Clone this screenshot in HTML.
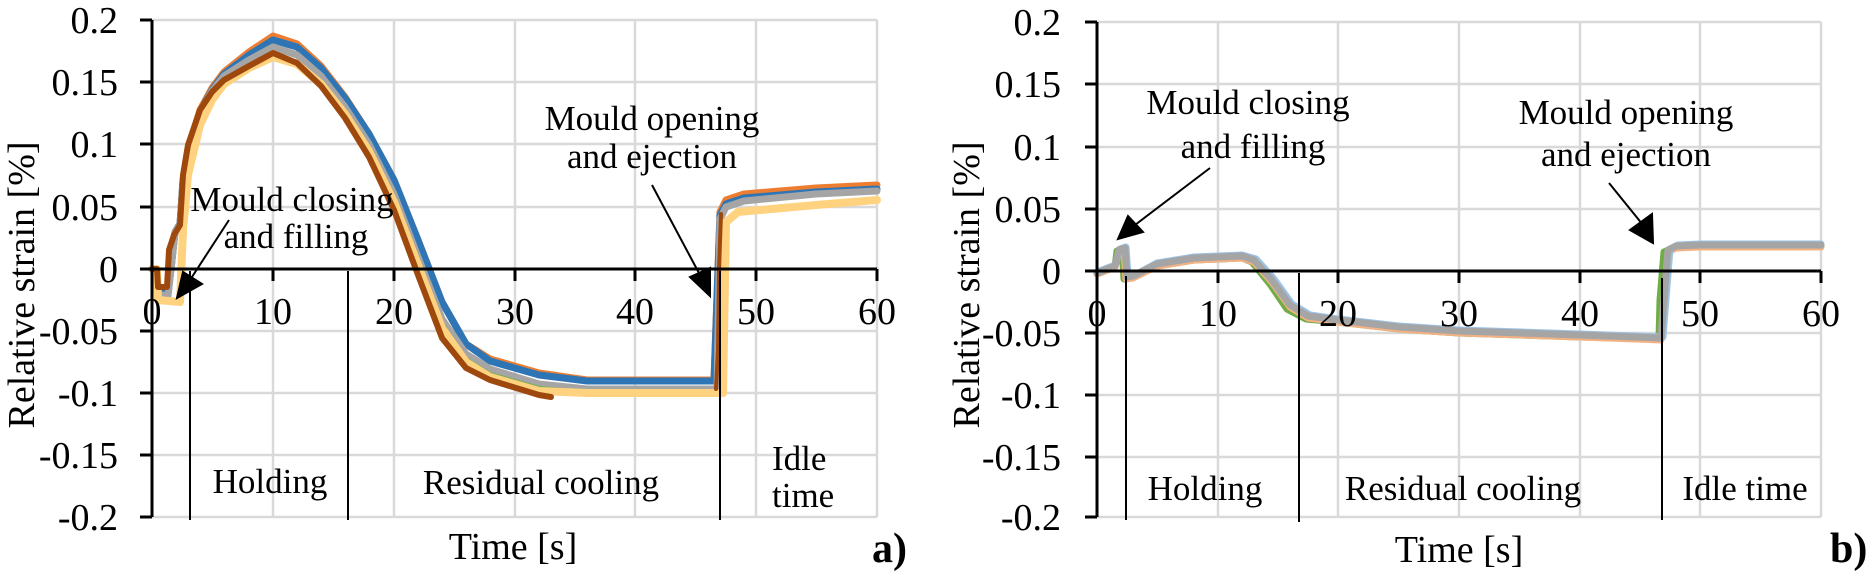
<!DOCTYPE html>
<html><head><meta charset="utf-8"><style>
html,body{margin:0;padding:0;background:#fff;}
svg{display:block;}
text{font-family:"Liberation Serif",serif;fill:#000;}
</style></head><body>
<svg width="1876" height="580" viewBox="0 0 1876 580" xmlns="http://www.w3.org/2000/svg">
<defs>
<marker id="ah" viewBox="0 0 10 10" refX="9" refY="5" markerWidth="9" markerHeight="9" markerUnits="userSpaceOnUse" orient="auto"></marker>
</defs>
<!-- LEFT GRID -->
<g stroke="#d9d9d9" stroke-width="2.5" fill="none">
<path d="M152 20H877M152 82H877M152 144H877M152 207H877M152 331H877M152 393H877M152 455H877M152 517H877"/>
<path d="M273 20V517M394 20V517M515 20V517M635 20V517M756 20V517M877 20V517"/>
</g>
<!-- RIGHT GRID -->
<g stroke="#d9d9d9" stroke-width="2.5" fill="none">
<path d="M1097 22H1821M1097 84H1821M1097 147H1821M1097 209H1821M1097 333H1821M1097 395H1821M1097 457H1821M1097 517H1821"/>
<path d="M1218 22V517M1338 22V517M1459 22V517M1580 22V517M1700 22V517M1821 22V517"/>
</g>

<!-- LEFT SERIES -->
<g fill="none" stroke-linejoin="round" stroke-linecap="round">
<path stroke="#ED7D31" stroke-width="7" d="M152 269L157 269L158 292L168 294L171 269L175 232L180 224L183 180L188 149L200 110L212 88L224 72L249 52L273 36L297 44L321 66L345 97L369 134L394 180L418 240L442 302L466 344L490 359L539 373L587 380L714 380L720 212L726 200L744 194L816 188L877 185"/>
<path stroke="#2E75B6" stroke-width="7" d="M152 269L157 269L158 292L168 294L171 269L175 232L180 224L183 181L188 150L200 112L212 90L224 74L249 55L273 40L297 47L321 68L345 98L369 134L394 180L418 240L442 302L466 344L490 361L539 375L587 381L714 381L720 215L726 204L744 198L816 192L877 189"/>
<path stroke="#A5A5A5" stroke-width="7" d="M152 269L157 269L158 294L168 296L171 269L175 232L180 225L183 182L188 151L200 113L212 91L224 76L249 60L273 47L297 55L321 76L345 107L369 144L394 194L418 257L442 319L466 354L490 369L539 384L587 389L717 389L720 219L726 207L744 201L816 194L877 191"/>
<path stroke="#70AD47" stroke-width="2" d="M442 322L466 358L490 373L539 387L587 391L717 391"/>
<path stroke="#FFD27F" stroke-width="8" d="M152 269L157 269L158 300L180 302L183 230L188 175L200 125L212 100L224 84L249 68L273 57L297 64L321 84L345 114L369 151L394 202L418 265L442 328L466 362L490 377L539 391L587 393L723 393L726 222L738 212L816 205L877 200"/>
<path stroke="#9E480E" stroke-width="6" d="M152 269L157 269L158 287L167 287L169 250L174 235L180 225L183 175L188 145L200 110L212 92L224 80L249 66L273 53L297 63L321 86L345 118L369 157L394 210L418 275L442 338L466 368L490 380L539 395L551 397"/>
<path stroke="#9E480E" stroke-width="4" d="M716 389L718 350L719 270L721 214"/>
</g>

<!-- RIGHT SERIES -->
<g fill="none" stroke-linejoin="round" stroke-linecap="round">
<path stroke="#70AD47" stroke-width="7" d="M1097 274L1115 267L1117 251L1122 249L1124 279L1131 277L1157 266L1194 260L1242 258L1252 262L1270 284L1287 309L1306 319L1338 322L1399 329L1459 333L1580 337L1659 339L1660 300L1664 252L1676 247L1700 246L1821 246"/>
<path stroke="#F4B183" stroke-width="7" d="M1097 274L1115 267L1119 251L1124 249L1126 279L1133 278L1157 266L1194 260L1242 258L1254 262L1272 282L1290 307L1308 318L1338 322L1399 329L1459 333L1580 337L1661 340L1664 302L1668 252L1676 248L1700 247L1821 247"/>
<path stroke="#9DC3E6" stroke-width="7" d="M1097 272L1115 265L1120 249L1126 247L1128 276L1135 275L1157 263L1194 257L1242 255L1256 259L1274 279L1292 304L1310 315L1338 319L1399 326L1459 330L1580 334L1663 337L1666 299L1670 249L1678 245L1700 244L1821 244"/>
<path stroke="#A5A5A5" stroke-width="7" d="M1097 273L1115 266L1119 250L1125 248L1127 277L1133 276L1157 264L1194 258L1242 256L1254 260L1272 280L1290 305L1308 316L1338 320L1399 327L1459 331L1580 335L1661 338L1664 300L1668 250L1676 246L1700 245L1821 245"/>
</g>

<!-- AXES LEFT -->
<g stroke="#000" stroke-width="3" fill="none">
<path d="M152 20V517"/>
<path d="M140 20H152M140 82H152M140 144H152M140 207H152M140 269H152M140 331H152M140 393H152M140 455H152M140 517H152"/>
<path d="M152 269H877"/>
<path d="M273 269V281M394 269V281M515 269V281M635 269V281M756 269V281M877 269V281"/>
</g>
<g stroke="#000" stroke-width="2" fill="none">
<path d="M190 271V520M348 271V520M720 271V520"/>
</g>
<!-- AXES RIGHT -->
<g stroke="#000" stroke-width="3" fill="none">
<path d="M1097 22V517"/>
<path d="M1085 22H1097M1085 84H1097M1085 147H1097M1085 209H1097M1085 271H1097M1085 333H1097M1085 395H1097M1085 457H1097M1085 517H1097"/>
<path d="M1097 271H1821"/>
<path d="M1218 271V283M1338 271V283M1459 271V283M1580 271V283M1700 271V283M1821 271V283"/>
</g>
<g stroke="#000" stroke-width="2" fill="none">
<path d="M1126 276V520M1299 273V522M1662 278V520"/>
</g>

<!-- ARROWS -->
<g stroke="#000" stroke-width="2" fill="#000">
<line x1="229" y1="220" x2="190" y2="280"/>
<polygon points="177,298 183,272 202,284"/>
<line x1="652" y1="185" x2="700" y2="275"/>
<polygon points="710,296 690,277 710,268" />
<line x1="1210" y1="168" x2="1135" y2="225"/>
<polygon points="1118,239 1128,216 1143,232"/>
<line x1="1609" y1="183" x2="1643" y2="225"/>
<polygon points="1653,243 1630,230 1652,214"/>
</g>

<!-- TICK LABELS LEFT -->
<g font-size="38" text-anchor="end">
<text x="118" y="33">0.2</text>
<text x="118" y="95">0.15</text>
<text x="118" y="157">0.1</text>
<text x="118" y="220">0.05</text>
<text x="118" y="282">0</text>
<text x="118" y="344">-0.05</text>
<text x="118" y="406">-0.1</text>
<text x="118" y="468">-0.15</text>
<text x="118" y="530">-0.2</text>
</g>
<g font-size="38" text-anchor="middle">
<text x="152" y="324">0</text>
<text x="273" y="324">10</text>
<text x="394" y="324">20</text>
<text x="515" y="324">30</text>
<text x="635" y="324">40</text>
<text x="756" y="324">50</text>
<text x="877" y="324">60</text>
</g>
<!-- TICK LABELS RIGHT -->
<g font-size="38" text-anchor="end">
<text x="1061" y="35">0.2</text>
<text x="1061" y="97">0.15</text>
<text x="1061" y="160">0.1</text>
<text x="1061" y="222">0.05</text>
<text x="1061" y="284">0</text>
<text x="1061" y="346">-0.05</text>
<text x="1061" y="408">-0.1</text>
<text x="1061" y="470">-0.15</text>
<text x="1061" y="530">-0.2</text>
</g>
<g font-size="38" text-anchor="middle">
<text x="1097" y="326">0</text>
<text x="1218" y="326">10</text>
<text x="1338" y="326">20</text>
<text x="1459" y="326">30</text>
<text x="1580" y="326">40</text>
<text x="1700" y="326">50</text>
<text x="1821" y="326">60</text>
</g>

<!-- AXIS TITLES -->
<text font-size="38" text-anchor="middle" transform="translate(34,285) rotate(-90)">Relative strain [%]</text>
<text font-size="38" text-anchor="middle" transform="translate(979,285) rotate(-90)">Relative strain [%]</text>
<text font-size="38" x="513" y="559" text-anchor="middle">Time [s]</text>
<text font-size="38" x="1459" y="562" text-anchor="middle">Time [s]</text>
<text font-size="42" font-weight="bold" x="872" y="562">a)</text>
<text font-size="42" font-weight="bold" x="1830" y="562">b)</text>

<!-- ANNOTATIONS LEFT -->
<g font-size="35">
<text x="292" y="211" text-anchor="middle">Mould closing</text>
<text x="296" y="248" text-anchor="middle">and filling</text>
<text x="652" y="130" text-anchor="middle">Mould opening</text>
<text x="652" y="168" text-anchor="middle">and ejection</text>
<text x="270" y="493" text-anchor="middle">Holding</text>
<text x="541" y="494" text-anchor="middle">Residual cooling</text>
<text x="772" y="470">Idle</text>
<text x="772" y="507">time</text>
</g>
<!-- ANNOTATIONS RIGHT -->
<g font-size="35">
<text x="1248" y="114" text-anchor="middle">Mould closing</text>
<text x="1253" y="158" text-anchor="middle">and filling</text>
<text x="1626" y="124" text-anchor="middle">Mould opening</text>
<text x="1626" y="166" text-anchor="middle">and ejection</text>
<text x="1205" y="500" text-anchor="middle">Holding</text>
<text x="1463" y="500" text-anchor="middle">Residual cooling</text>
<text x="1745" y="500" text-anchor="middle">Idle time</text>
</g>
</svg>
</body></html>
